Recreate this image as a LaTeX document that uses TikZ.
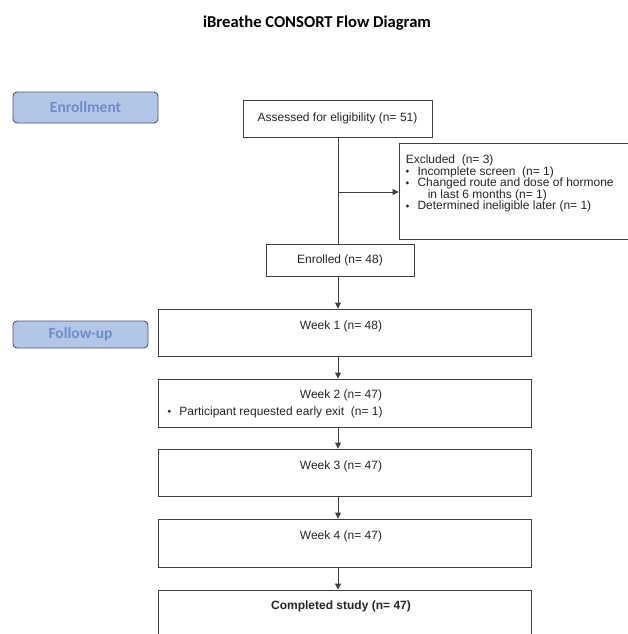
\documentclass[tikz,border=0pt]{standalone}
\usepackage{fontspec}
\setmainfont{Liberation Sans}
\newfontfamily\calib{Carlito}
\usetikzlibrary{arrows.meta,calc}
\definecolor{lineC}{HTML}{3F3F3F}
\definecolor{phaseFill}{HTML}{B4C6E7}
\definecolor{phaseText}{HTML}{6F8CC6}
\definecolor{phaseDraw}{HTML}{4F5570}
\newcommand\dbul{\raisebox{0.35ex}{\rotatebox{45}{\rule{2.3pt}{2.3pt}}}\hspace{8.5pt}}
\tikzset{
  phase/.style={draw=phaseDraw, line width=0.9pt, fill=phaseFill, rounded corners=4pt,
    font=\calib\bfseries\fontsize{15.5}{17}\selectfont, text=phaseText, inner sep=0pt},
  flowbox/.style={draw=lineC, line width=0.9pt, inner sep=0pt},
  body/.style={font=\fontsize{12}{11.6}\selectfont, inner sep=0pt, text=black!85},
  conn/.style={draw=lineC, line width=0.9pt},
  arr/.style={conn, -{Triangle[length=6pt,width=6pt]}},
}
\begin{document}
\begin{tikzpicture}[x=1pt,y=-1pt]
\clip (0,0) rectangle (628,634);
\fill[white] (0,0) rectangle (628,634);
% title
\node[font=\calib\bfseries\fontsize{16.6}{18}\selectfont, inner sep=0pt] (title) at (317,23) {iBreathe CONSORT Flow Diagram};
% phase labels
\node[phase, minimum width=145pt, minimum height=31pt] (enroll) at (85.5,107.5) {Enrollment};
\node[phase, minimum width=135pt, minimum height=27pt] (follow) at (80.5,334.5) {Follow-up};
% boxes
\coordinate (spine) at (338,0);
\node[flowbox, minimum width=189pt, minimum height=37pt, body] (assessed) at (337.5,118.5) {Assessed for eligibility (n= 51)};
\node[flowbox, minimum width=240pt, minimum height=96pt] (exc) at (519,191) {};
\node[body, anchor=north west, align=left] (exct) at ($(exc.north west)+(7,12)$) {%
Excluded\ \ (n= 3)\\
\dbul Incomplete screen\ \ (n= 1)\\
\dbul Changed route and dose of hormone\\
\hspace{22pt}in last 6 months (n= 1)\\
\dbul Determined ineligible later (n= 1)};
\node[flowbox, minimum width=148pt, minimum height=32pt, body] (enrolled) at (340,260) {Enrolled (n= 48)};
\node[flowbox, minimum width=373pt, minimum height=47pt] (w1) at (344.5,332.5) {};
\node[flowbox, minimum width=373pt, minimum height=48pt] (w2) at (344.5,403) {};
\node[flowbox, minimum width=373pt, minimum height=47pt] (w3) at (344.5,472.5) {};
\node[flowbox, minimum width=373pt, minimum height=48pt] (w4) at (344.5,543) {};
\node[flowbox, minimum width=373pt, minimum height=60pt] (done) at (344.5,620) {};
\node[body] (w1t) at (341,326) {Week 1 (n= 48)};
\node[body] (w2t) at (341,395) {Week 2 (n= 47)};
\node[body, anchor=west] (w2b) at (167.5,412) {\dbul Participant requested early exit\ \ (n= 1)};
\node[body] (w3t) at (341,466) {Week 3 (n= 47)};
\node[body] (w4t) at (341,536) {Week 4 (n= 47)};
\node[body, font=\bfseries\fontsize{12}{11.6}\selectfont] (donet) at (341,606) {Completed study (n= 47)};
% connectors
\coordinate (branch) at (338,192);
\draw[conn] (assessed.south -| spine) -- (enrolled.north -| spine);
\draw[arr] (branch) -- (branch -| exc.west);
\draw[arr] (enrolled.south -| spine) -- (w1.north -| spine);
\draw[arr] (w1.south -| spine) -- (w2.north -| spine);
\draw[arr] (w2.south -| spine) -- (w3.north -| spine);
\draw[arr] (w3.south -| spine) -- (w4.north -| spine);
\draw[arr] (w4.south -| spine) -- (done.north -| spine);
\end{tikzpicture}
\end{document}
